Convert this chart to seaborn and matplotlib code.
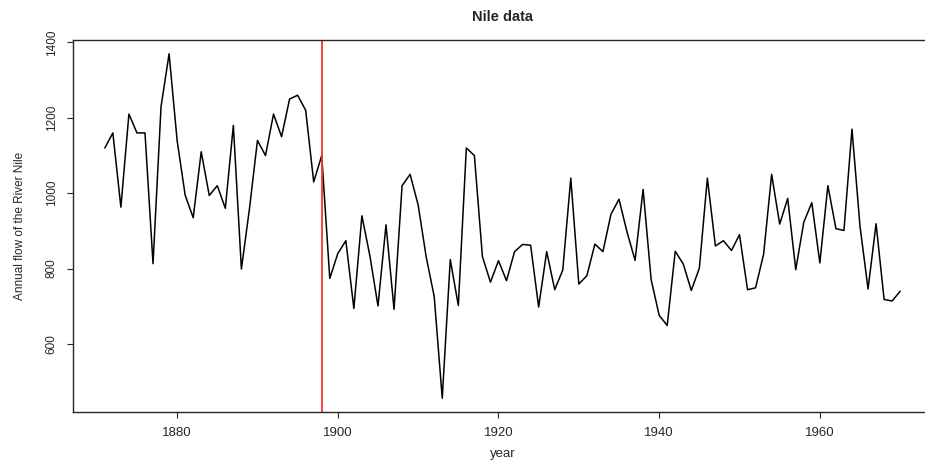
import matplotlib
matplotlib.use("Agg")
from matplotlib import pyplot as plt
import numpy as np
import pandas as pd
import seaborn as sns

# Nile annual flow, 1871-1970
years = list(range(1871, 1971))
flow = [1120, 1160, 963, 1210, 1160, 1160, 813, 1230, 1370, 1140,
        995, 935, 1110, 994, 1020, 960, 1180, 799, 958, 1140,
        1100, 1210, 1150, 1250, 1260, 1220, 1030, 1100, 774, 840,
        874, 694, 940, 833, 701, 916, 692, 1020, 1050, 969,
        831, 726, 456, 824, 702, 1120, 1100, 832, 764, 821,
        768, 845, 864, 862, 698, 845, 744, 796, 1040, 759,
        781, 865, 845, 944, 984, 897, 822, 1010, 771, 676,
        649, 846, 812, 742, 801, 1040, 860, 874, 848, 890,
        744, 749, 838, 1050, 918, 986, 797, 923, 975, 815,
        1020, 906, 901, 1170, 912, 746, 919, 718, 714, 740]
change_year = 1898
x_ticks = [1880, 1900, 1920, 1940, 1960]
y_ticks = [600, 800, 1000, 1200, 1400]

df = pd.DataFrame({"year": years, "flow": flow})

sns.set_style("ticks")
plt.rcParams["font.family"] = ["Liberation Sans", "DejaVu Sans"]

fig = plt.figure(figsize=(9.25, 4.61), dpi=100)
ax = fig.add_axes([73 / 925, 1 - 412 / 461, (932 - 73) / 925, (412 - 40) / 461])

sns.lineplot(data=df, x="year", y="flow", color="black", linewidth=1.1, ax=ax)
ax.axvline(change_year, color="#ff3030", linewidth=1.3)

# R-style 4% padding
xr = max(years) - min(years)
ax.set_xlim(min(years) - 0.04 * xr, max(years) + 0.04 * xr)
yr = max(flow) - min(flow)
ax.set_ylim(min(flow) - 0.04 * yr, max(flow) + 0.04 * yr)

ax.set_xticks(x_ticks)
ax.set_yticks(y_ticks)
ax.tick_params(length=4, width=0.8)
ax.tick_params(axis="x", labelsize=9.5, pad=7)
ax.tick_params(axis="y", labelsize=8.5, pad=7)
for lab in ax.get_yticklabels():
    lab.set_rotation(90)
    lab.set_va("center")

for s in ax.spines.values():
    s.set_visible(True)
    s.set_linewidth(1.0)

ax.set_title("Nile data", fontsize=10.5, fontweight="bold", pad=14)
ax.set_xlabel("year", fontsize=9.5, labelpad=6)
ax.set_ylabel("Annual flow of the River Nile", fontsize=8.5, labelpad=14)

fig.savefig("out.png", dpi=100)
